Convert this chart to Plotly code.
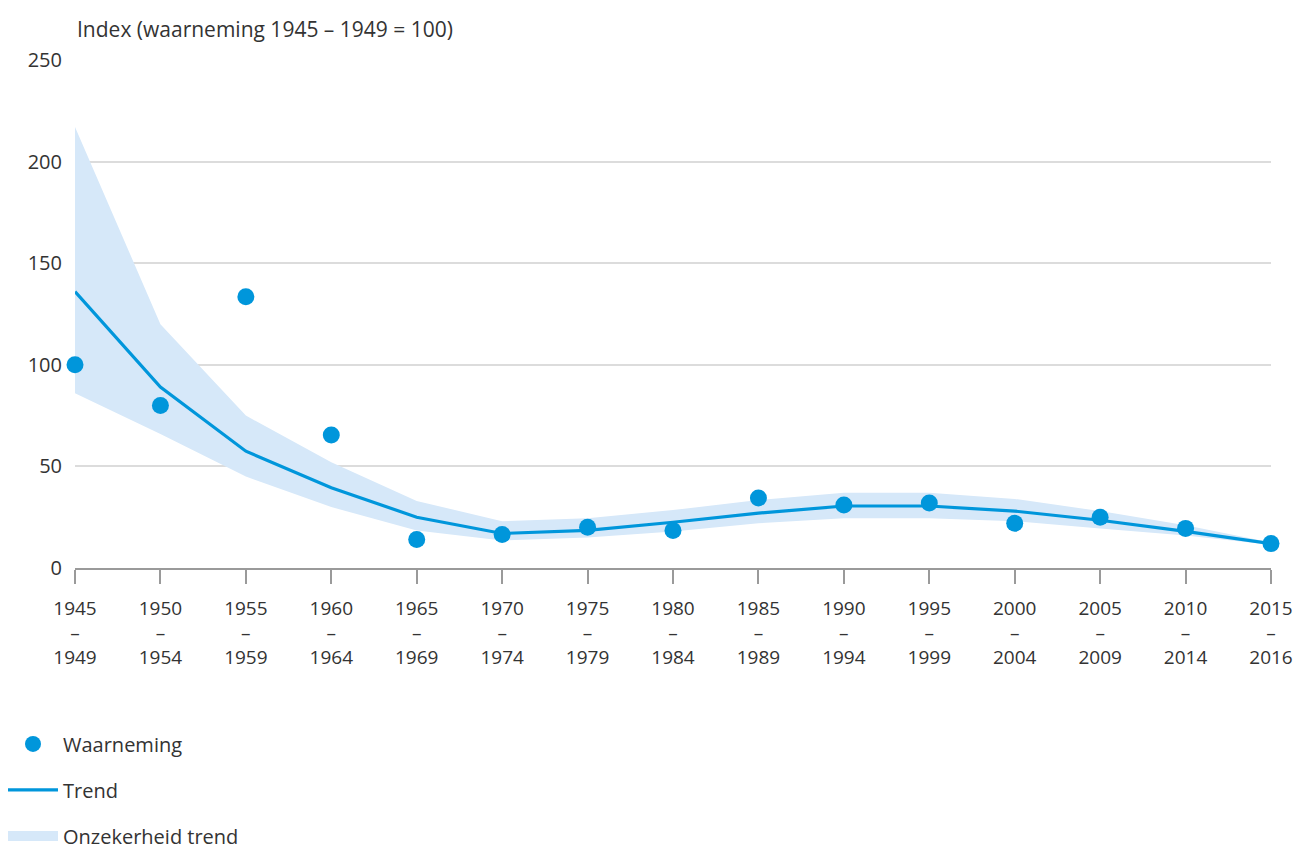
import plotly.graph_objects as go

# Periods (start year of each five-year window)
periode_start = [1945, 1950, 1955, 1960, 1965, 1970, 1975, 1980, 1985, 1990, 1995, 2000, 2005, 2010, 2015]
periode_label = ["1945<br>–<br>1949", "1950<br>–<br>1954", "1955<br>–<br>1959", "1960<br>–<br>1964",
                 "1965<br>–<br>1969", "1970<br>–<br>1974", "1975<br>–<br>1979", "1980<br>–<br>1984",
                 "1985<br>–<br>1989", "1990<br>–<br>1994", "1995<br>–<br>1999", "2000<br>–<br>2004",
                 "2005<br>–<br>2009", "2010<br>–<br>2014", "2015<br>–<br>2016"]

# Index values
waarneming = [100, 80, 133.5, 65.5, 14, 16.5, 20, 18.5, 34.5, 31, 32, 22, 25, 19.5, 12]
trend = [136, 89, 57.5, 39.5, 25, 17, 18.5, 22.5, 27, 30.5, 30.5, 28, 23.5, 18, 12]
trend_boven = [217, 120, 75, 52, 33, 23, 24.5, 28.5, 33.5, 37, 37, 34, 28, 21, 12.5]
trend_onder = [86, 66, 45, 30, 18.5, 13.5, 15, 18, 22, 24.5, 24.5, 23, 19.5, 16, 11.5]

y_ticks = [0, 50, 100, 150, 200, 250]

BLAUW = "#0096DB"
LICHTBLAUW = "#D6E8F9"
TEKST = "#333333"
FONT = "Open Sans, Lato, sans-serif"

fig = go.Figure()

# Uncertainty band around the trend
fig.add_trace(go.Scatter(
    x=periode_start, y=trend_onder, mode="lines",
    line=dict(width=0, color=LICHTBLAUW), showlegend=False, hoverinfo="skip",
))
fig.add_trace(go.Scatter(
    x=periode_start, y=trend_boven, mode="lines", fill="tonexty",
    fillcolor=LICHTBLAUW, line=dict(width=0, color=LICHTBLAUW),
    showlegend=False, hoverinfo="skip",
))

# Trend line
fig.add_trace(go.Scatter(
    x=periode_start, y=trend, mode="lines",
    line=dict(width=3.2, color=BLAUW), name="Trend",
    legendgroup="trend", legendrank=2,
))

# Observations
fig.add_trace(go.Scatter(
    x=periode_start, y=waarneming, mode="markers",
    marker=dict(size=17, color=BLAUW), name="Waarneming",
    legendgroup="obs", legendrank=1, cliponaxis=False,
))

# Legend key for the band: a wide, thick swatch
fig.add_trace(go.Scatter(
    x=[None], y=[None], mode="lines",
    line=dict(width=25, color=LICHTBLAUW),
    name="Onzekerheid trend", legendgroup="band", legendrank=3,
))

fig.update_layout(
    width=1299, height=851,
    margin=dict(l=75, r=28, t=60, b=283, autoexpand=False),
    paper_bgcolor="white", plot_bgcolor="white",
    font=dict(family=FONT, size=18, color=TEKST),
    showlegend=True,
    legend=dict(
        x=-0.0602, xanchor="left", y=-0.308, yanchor="top",
        tracegroupgap=17, font=dict(size=20, color=TEKST),
        traceorder="grouped", itemwidth=50,
    ),
    annotations=[dict(
        text="Index (waarneming 1945 – 1949 = 100)",
        xref="paper", yref="paper", x=0, y=1, xanchor="left", yanchor="bottom",
        yshift=15, showarrow=False, font=dict(size=21, color=TEKST),
    )],
)

fig.update_xaxes(
    range=[1945, 2015], tickmode="array", tickvals=periode_start, ticktext=periode_label,
    showgrid=False, zeroline=False, showline=True, linecolor="#9A9A9A", linewidth=2,
    ticks="outside", ticklen=14, tickcolor="#9A9A9A", tickwidth=1.5,
    ticklabelstandoff=8, automargin=False,
    tickfont=dict(size=19, color=TEKST),
)
fig.update_yaxes(
    range=[0, 250], tickmode="array", tickvals=y_ticks,
    showgrid=True, gridcolor="#DCDCDC", gridwidth=1.5, zeroline=False,
    showline=False, ticks="", ticklabelstandoff=12, automargin=False,
    tickfont=dict(size=20, color=TEKST),
)

fig.write_html("out.html")
